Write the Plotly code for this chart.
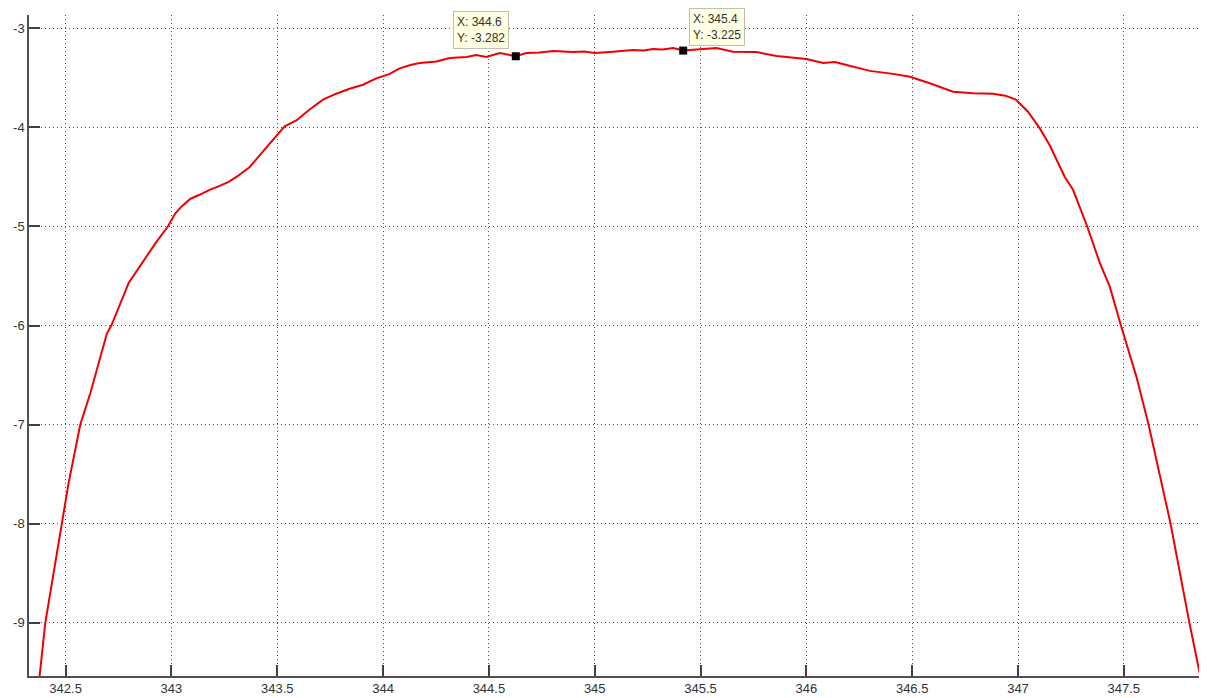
import plotly.graph_objects as go

# Curve values
x_vals = [342.365, 342.377, 342.404, 342.483, 342.514, 342.569, 342.617, 342.695, 342.716,
          342.798, 342.869, 342.924, 342.983, 343.018, 343.047, 343.09, 343.133, 343.18,
          343.228, 343.27, 343.307, 343.37, 343.432, 343.496, 343.535, 343.59, 343.653,
          343.716, 343.779, 343.842, 343.905, 343.968, 344.031, 344.078, 344.13, 344.173,
          344.252, 344.315, 344.394, 344.44, 344.488, 344.551, 344.59, 344.627, 344.677,
          344.74, 344.803, 344.898, 344.95, 345.0, 345.087, 345.13, 345.181, 345.23,
          345.276, 345.32, 345.371, 345.418, 345.496, 345.575, 345.654, 345.71, 345.764,
          345.859, 345.953, 346.0, 346.08, 346.135, 346.19, 346.30, 346.41, 346.49,
          346.583, 346.693, 346.788, 346.882, 346.94, 346.99, 347.046, 347.10, 347.15,
          347.221, 347.26, 347.327, 347.387, 347.434, 347.485, 347.522, 347.56, 347.617,
          347.72, 347.81, 347.859, 347.872]
y_vals = [-9.65, -9.54, -9.0, -8.0, -7.59, -7.0, -6.68, -6.08, -6.0,
          -5.57, -5.34, -5.17, -5.0, -4.87, -4.80, -4.72, -4.68, -4.63,
          -4.59, -4.55, -4.50, -4.40, -4.245, -4.09, -3.99, -3.93, -3.82,
          -3.72, -3.66, -3.61, -3.57, -3.505, -3.46, -3.405, -3.37, -3.35,
          -3.335, -3.30, -3.29, -3.27, -3.29, -3.25, -3.27, -3.282, -3.25,
          -3.245, -3.23, -3.24, -3.235, -3.25, -3.236, -3.23, -3.22, -3.225,
          -3.21, -3.215, -3.20, -3.225, -3.21, -3.20, -3.236, -3.235, -3.24,
          -3.28, -3.30, -3.31, -3.35, -3.34, -3.37, -3.43, -3.46, -3.49,
          -3.555, -3.64, -3.655, -3.66, -3.68, -3.72, -3.84, -4.0, -4.18,
          -4.50, -4.63, -5.0, -5.37, -5.61, -5.99, -6.25, -6.52, -7.0,
          -7.99, -9.0, -9.53, -9.65]

# Data tips
tip_x = [344.627, 345.418]
tip_y = [-3.282, -3.225]
tip_labels = ["X: 344.6<br>Y: -3.282", "X: 345.4<br>Y: -3.225"]

# Tick labels
x_ticks = [342.5, 343, 343.5, 344, 344.5, 345, 345.5, 346, 346.5, 347, 347.5]
x_ticktext = ["342.5", "343", "343.5", "344", "344.5", "345", "345.5", "346", "346.5", "347", "347.5"]
y_ticks = [-9, -8, -7, -6, -5, -4, -3]
y_ticktext = ["-9", "-8", "-7", "-6", "-5", "-4", "-3"]

fig = go.Figure()
fig.add_trace(go.Scatter(x=x_vals, y=y_vals, mode="lines",
                         line=dict(color="#F00000", width=2), hoverinfo="skip"))
fig.add_trace(go.Scatter(x=tip_x, y=tip_y, mode="markers",
                         marker=dict(symbol="square", size=8, color="black"), hoverinfo="skip"))

anchors = [("right", -7, 7), ("left", 6, 5)]
for xv, yv, txt, (xa, xs, ys) in zip(tip_x, tip_y, tip_labels, anchors):
    fig.add_annotation(x=xv, y=yv, text=txt, showarrow=False, xanchor=xa, yanchor="bottom",
                       xshift=xs, yshift=ys, align="left",
                       font=dict(family="Liberation Sans, Arial", size=12, color="#333"),
                       bgcolor="#FFFFE1", bordercolor="#C0C0B0", borderwidth=1, borderpad=3)

axis_common = dict(showline=True, linecolor="#505050", linewidth=1.5, mirror=False,
                   ticks="inside", ticklen=11, tickcolor="#404040", tickwidth=1.5,
                   showgrid=True, gridcolor="#505050", gridwidth=1, griddash="1px,3px",
                   zeroline=False,
                   tickfont=dict(family="Liberation Sans, Arial", size=13, color="#333"))

fig.update_xaxes(range=[342.327, 347.893], tickvals=x_ticks, ticktext=x_ticktext, **axis_common)
fig.update_yaxes(range=[-9.536, -2.866], tickvals=y_ticks, ticktext=y_ticktext, **axis_common)

# page body adds an 8px offset; sizes compensate so the plot lands where the reference has it
fig.update_layout(width=1199, height=690, showlegend=False,
                  plot_bgcolor="white", paper_bgcolor="white",
                  margin=dict(l=21, r=0, t=7, b=22))

fig.write_html("out.html")
